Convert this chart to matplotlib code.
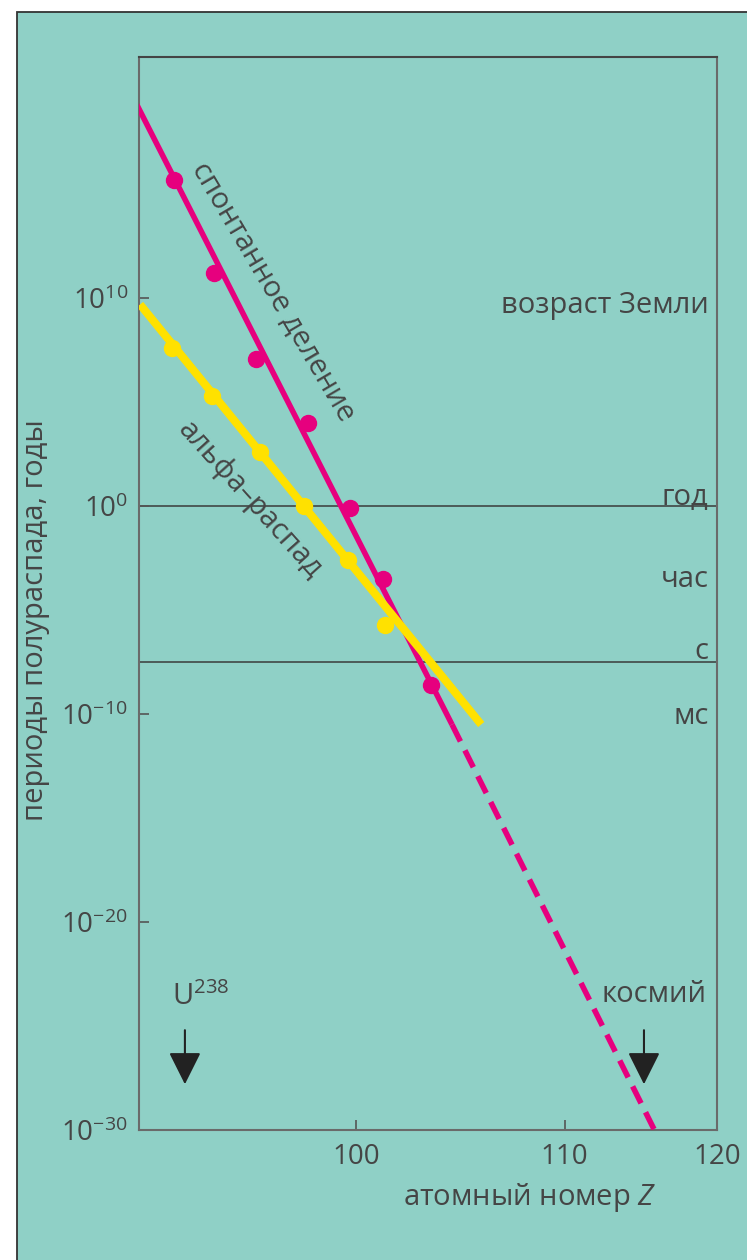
import numpy as np
import matplotlib
matplotlib.use('Agg')
import matplotlib.pyplot as plt
from matplotlib.patches import Rectangle

plt.rcParams['font.family'] = ['Open Sans', 'DejaVu Sans']
plt.rcParams['mathtext.fontset'] = 'custom'
plt.rcParams['mathtext.rm'] = 'Open Sans'
plt.rcParams['mathtext.it'] = 'Open Sans:italic'

# данные (log10 периода полураспада, годы)
fission_z = [91.3, 93.2, 95.2, 97.7, 99.7, 101.3, 103.6]
fission_log = [15.7, 11.2, 7.1, 4.0, -0.1, -3.5, -8.6]
fission_solid_z = [89.5, 104.6]
fission_solid_log = [19.3, -10.5]
fission_dash_z = [104.6, 114.3]
fission_dash_log = [-10.5, -30.0]

alpha_z = [91.2, 93.1, 95.4, 97.5, 99.6, 101.4]
alpha_log = [7.6, 5.3, 2.6, 0.0, -2.6, -5.7]
alpha_line_z = [89.65, 106.0]
alpha_line_log = [9.7, -10.5]

y_ticks_log = [10, 0, -10, -20, -30]
y_tick_labels = ['10$^{10}$', '10$^{0}$', '10$^{\u221210}$', '10$^{\u221220}$', '10$^{\u221230}$']
x_ticks = [100, 110]
x_tick_labels = ['100', '110']

# линии времени: год, секунда (в годах)
time_marks_log = [0.0, np.log10(1 / 3.156e7)]
time_labels = ['год', 'час', 'с', 'мс']
time_labels_log = [0.0, np.log10(1 / 8766.0), np.log10(1 / 3.156e7), np.log10(1e-3 / 3.156e7)]
earth_age_log = np.log10(4.5e9)

BG = '#8fd0c6'
PINK = '#e6007e'
YELLOW = '#ffe100'
TXT = '#454545'
FS = 21

fig = plt.figure(figsize=(7.47, 12.6), dpi=100)
fig.patch.set_facecolor('white')
fig.patches.append(Rectangle((17 / 747, -0.1), 1.2, 1 - 12 / 1260 + 0.1,
                             transform=fig.transFigure, facecolor=BG,
                             edgecolor='#333333', linewidth=1.3, zorder=-10))

ax = fig.add_axes([139 / 747, 1 - 1130 / 1260, (717 - 139) / 747, (1130 - 57) / 1260])
ax.set_facecolor(BG)
ax.set_yscale('log')
ax.set_xlim(89.6, 117.3)
ax.set_ylim(1e-30, 10 ** 21.6)

def p(vals):
    return [10.0 ** v for v in vals]

for v in time_marks_log:
    ax.axhline(10 ** v, color='#3a3a3a', lw=1.1, zorder=1)

ax.plot(fission_solid_z, p(fission_solid_log), color=PINK, lw=4,
        solid_capstyle='butt', zorder=3)
ax.plot(fission_dash_z, p(fission_dash_log), color=PINK, lw=4,
        dashes=(3.4, 1.8), zorder=3)
ax.plot(fission_z, p(fission_log), 'o', color=PINK, ms=11.5, zorder=4)

ax.plot(alpha_line_z, p(alpha_line_log), color=YELLOW, lw=5.8,
        solid_capstyle='butt', zorder=5)
ax.plot(alpha_z, p(alpha_log), 'o', color=YELLOW, ms=11.5, zorder=6)

# подписи кривых
ax.text(96.0, 10 ** 10.3, 'спонтанное деление', rotation=-59.5, ha='center',
        va='center', fontsize=FS, color=TXT, rotation_mode='anchor')
ax.text(94.9, 10 ** 0.3, 'альфа–распад', rotation=-48.0, ha='center',
        va='center', fontsize=FS, color=TXT, rotation_mode='anchor')

# подписи шкалы времени
xr = 116.9
ax.text(xr, 10 ** earth_age_log, 'возраст Земли', ha='right', va='center',
        fontsize=FS, color=TXT)
ax.text(xr, 10 ** -0.3, time_labels[0], ha='right', va='bottom',
        fontsize=FS, color=TXT)
ax.text(xr, 10 ** (time_labels_log[1] + 0.4), time_labels[1], ha='right', va='center',
        fontsize=FS, color=TXT)
ax.text(xr, 10 ** (time_labels_log[2] - 0.2), time_labels[2], ha='right', va='bottom',
        fontsize=FS, color=TXT)
ax.text(xr, 10 ** (time_labels_log[3] + 0.4), time_labels[3], ha='right', va='center',
        fontsize=FS, color=TXT)

# стрелки: уран и космий
for z in [91.8, 113.8]:
    ax.annotate('', xy=(z, 10 ** -27.8), xytext=(z, 10 ** -25.2),
                arrowprops=dict(arrowstyle='-|>,head_length=1.0,head_width=0.5',
                                mutation_scale=20, color='#222222', lw=1.5,
                                shrinkA=0, shrinkB=0))
ax.text(91.2, 10 ** -23.6, 'U$^{238}$', ha='left', va='center', fontsize=FS, color=TXT)
ax.text(114.3, 10 ** -23.5, 'космий', ha='center', va='center', fontsize=FS, color=TXT)

# оси
for s in ax.spines.values():
    s.set_color('#6a6a6a')
    s.set_linewidth(1.5)
ax.spines['top'].set_color('#444444')

ax.set_yticks(p(y_ticks_log))
ax.set_yticklabels(y_tick_labels)
ax.yaxis.set_minor_locator(matplotlib.ticker.NullLocator())
ax.set_xticks(x_ticks)
ax.set_xticklabels(x_tick_labels)
ax.tick_params(axis='both', direction='in', length=7, width=1.2, color='#555555',
               labelsize=20, labelcolor=TXT)
ax.tick_params(axis='y', pad=8)
ax.tick_params(axis='x', pad=9)
ax.text(1.0, -0.012, '120', transform=ax.transAxes, ha='center', va='top',
        fontsize=20, color=TXT)

fig.text(530 / 747, 1 - 1198 / 1260, 'атомный номер $\\it{Z}$', ha='center', va='center',
         fontsize=FS, color=TXT)
fig.text(36 / 747, 1 - 620 / 1260, 'периоды полураспада, годы', rotation=90,
         ha='center', va='center', fontsize=FS, color=TXT)

fig.savefig('out.png', dpi=100)
